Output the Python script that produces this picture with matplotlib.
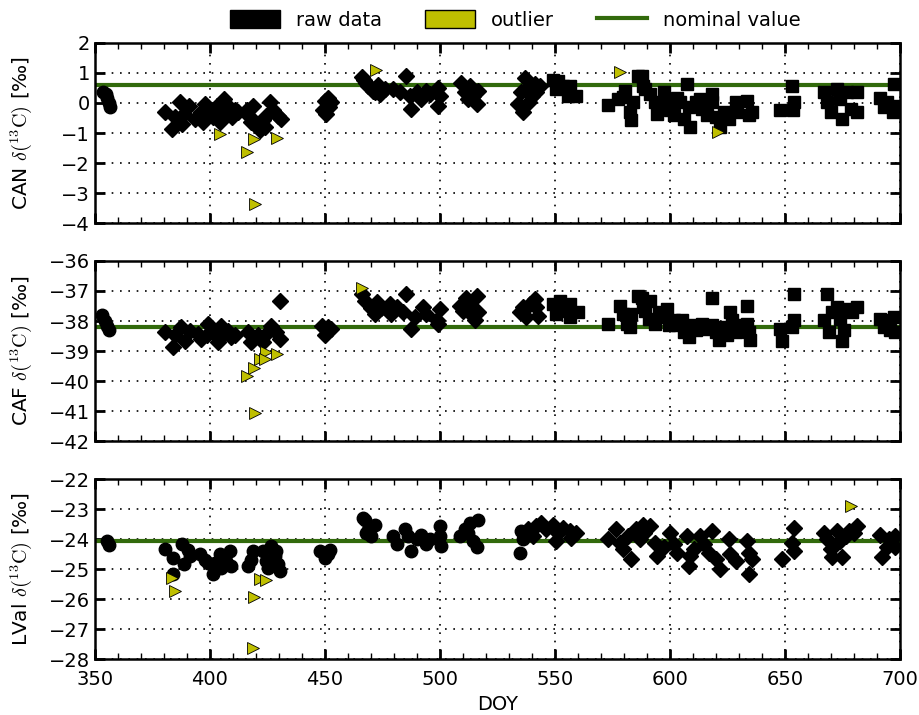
import matplotlib
matplotlib.use("Agg")
import matplotlib.pyplot as plt
from matplotlib.patches import Patch
from matplotlib.lines import Line2D
from matplotlib.ticker import MultipleLocator

plt.rcParams['font.family'] = ['DejaVu Sans']
plt.rcParams['mathtext.fontset'] = 'cm'

# ---------------- CAN ----------------
can_circ_doy = [353.5, 355, 355.5, 356, 356.5]
can_circ_val = [0.35, 0.3, 0.15, 0.0, -0.15]
can_diam_doy = [380.4, 383.6, 384.8, 387, 388, 389, 391, 393.5, 396, 398, 397, 399, 401.5, 403,
                404.5, 406, 406.5, 408, 409.5, 411, 412.3, 416, 417.4, 419, 420, 421.7, 423, 424.6,
                426, 427.5, 429.7, 431, 424, 418,
                450, 451.4, 449.3, 452, 450.7, 452.9,
                466, 467, 468, 469, 470, 471, 472, 473, 474, 476,
                485.5, 479.7, 482.6, 487, 487.7, 489.9, 492, 494.2, 495.7, 499.3, 500, 499.3,
                509.4, 510.9, 513, 514.5, 516, 516.7, 512.3,
                537, 538.4, 535.5, 534, 536.2, 540, 541.3, 539, 543.5, 542]
can_diam_val = [-0.29, -0.87, -0.47, 0.02, -0.69, -0.36, -0.09, -0.53, -0.31, -0.04, -0.63, -0.25,
                -0.47, -0.09, -0.63, 0.13, -0.31, -0.09, -0.47, -0.25, -0.31, -0.25, -0.47, -0.09,
                -0.69, -0.91, -0.58, -0.42, 0.02, -0.25, -0.42, -0.53, -0.8, -0.63,
                0.07, 0.18, -0.25, -0.14, -0.36, 0.02,
                0.85, 0.75, 0.65, 0.55, 0.5, 0.4, 0.35, 0.6, 0.3, 0.45,
                0.89, 0.46, 0.35, 0.24, -0.2, 0.35, 0.13, 0.4, 0.29, 0.51, 0.24, -0.09,
                0.67, 0.35, 0.57, 0.24, -0.03, 0.4, 0.13,
                0.84, 0.51, 0.35, -0.03, -0.3, 0.24, 0.62, 0.02, 0.57, 0.35]
can_sq_doy = [549.3, 551.4, 550.7, 553.6, 556.5, 555.8, 559.4, 573.2, 579.7, 586.2, 580.4, 577.5,
              584, 582.6, 583.3, 588.4,
              588, 589.4, 591.6, 593.8, 594.5, 597.4, 598.8, 600.3, 601.7, 603.2, 604.6, 606.1,
              607.5, 608.3, 609, 611.2, 613.3, 614, 616.2, 618.4, 618.4, 619.9, 622, 623.5, 625.7,
              628.6, 629.3, 633.6, 634.3, 635.8, 648.1, 653.2, 654, 653.6, 667, 668.4, 669.9,
              672.8, 674.2, 675, 677.1, 678.6, 681.4, 681.4, 691.6, 693, 694.5, 697.4, 698.1, 697]
can_sq_val = [0.78, 0.73, 0.46, 0.57, 0.57, 0.24, 0.24, -0.07, 0.2, 0.89, 0.4, 0.13,
              0.02, -0.3, -0.58, 0.57,
              0.89, 0.46, 0.29, 0.02, -0.36, 0.35, 0.02, -0.25, -0.41, 0.18, 0.02, -0.52,
              0.62, -0.14, -0.79, 0.02, 0.13, -0.2, -0.41, 0.29, 0.02, -0.47, -0.79, -0.3, -0.52,
              0.02, -0.3, 0.08, -0.41, -0.3, -0.25, 0.57, 0.02, -0.25, 0.35, 0.02, -0.3,
              0.46, 0.13, -0.52, 0.35, -0.2, 0.35, -0.3, 0.18, -0.14, 0.02, 0.62, -0.09, -0.3]
can_out_doy = [404.3, 419.3, 416.4, 429.4, 419.6, 472.2, 578.3, 621]
can_out_val = [-1.02, -1.2, -1.64, -1.15, -3.36, 1.09, 1.03, -0.96]
can_nominal = 0.6

# ---------------- CAF ----------------
caf_circ_doy = [353, 354.5, 355.5, 356]
caf_circ_val = [-37.8, -38.0, -38.15, -38.3]
caf_diam_doy = [380.4, 384, 384.8, 387.7, 389.1, 391.3, 394.9, 396.4, 399.3, 398.6, 401.4, 403.6,
                405.1, 405.8, 408, 409.4, 410.9, 416.7, 418.1, 421, 423.2, 424.6, 426.8, 429,
                430.4, 430.7,
                448.6, 451.4, 450, 452.9,
                466, 467.4, 470.3, 472.5, 471.7, 474.6, 478.3, 479,
                485.5, 481.2, 484, 487.7, 489.1, 492.8, 494.2, 498.6, 500, 499.3,
                508.7, 511.6, 513, 513.8, 516, 516.7, 515.2, 510.1,
                534.8, 536.2, 537.7, 539.1, 541.3, 542, 542.8]
caf_diam_val = [-38.37, -38.87, -38.48, -38.21, -38.65, -38.32, -38.43, -38.59, -38.1, -38.48,
                -38.37, -38.7, -38.15, -38.48, -38.32, -38.54, -38.48, -38.37, -38.7, -38.48,
                -38.7, -38.43, -38.15, -38.37, -38.59, -37.33,
                -38.15, -38.21, -38.48, -38.26,
                -37.1, -37.33, -37.55, -37.38, -37.77, -37.55, -37.44, -37.77,
                -37.11, -37.54, -37.71, -38.25, -37.87, -37.54, -37.76, -37.98, -37.6, -38.09,
                -37.49, -37.22, -37.43, -37.76, -37.16, -37.71, -37.98, -37.65,
                -37.71, -37.54, -37.87, -37.43, -37.27, -37.54, -37.82]
caf_sq_doy = [549.3, 550.7, 552.2, 553.6, 556.5, 556.5, 560.1, 573.2, 578.3, 579.7, 581.2, 583.3,
              586.2, 588.4, 582.6,
              588, 591.6, 589.4, 590.9, 593.8, 595.2, 597.4, 598.8, 599.6, 601.7, 603.2, 605.4,
              606.1, 608.3, 609.7, 611.2, 614.1, 615.5, 618.4, 618.4, 619.9, 621.3, 623.5, 625,
              626.4, 627.1, 628.6, 629.3, 633.6, 633.6, 634.3, 635.1, 648.1, 648.8, 653.9, 653.9,
              653.2, 667, 668.4, 669.1, 670.6, 672.8, 674.2, 675, 675.7, 677.1, 679.3, 681.4,
              691.6, 693, 695.2, 695.9, 697.4, 698.1]
caf_sq_val = [-37.43, -37.76, -37.33, -37.65, -37.43, -37.87, -37.71, -38.09, -37.49, -37.76,
              -38.09, -37.76, -37.16, -37.54, -38.2,
              -37.22, -37.33, -37.65, -37.92, -38.09, -37.71, -37.87, -37.6, -38.14, -37.98,
              -38.14, -37.98, -38.36, -38.52, -38.14, -38.3, -38.09, -38.25, -37.22, -38.14,
              -38.36, -38.63, -38.2, -38.47, -37.71, -37.98, -38.36, -38.14, -37.49, -38.09,
              -38.36, -38.63, -38.25, -38.68, -37.11, -37.98, -38.2, -37.98, -37.11, -38.36,
              -37.71, -37.54, -37.92, -38.68, -38.3, -37.6, -37.71, -37.54,
              -37.92, -38.2, -37.98, -38.3, -37.87, -38.36]
caf_out_doy = [466, 424.6, 429.4, 421.7, 423.9, 419.3, 416.4, 419.6]
caf_out_val = [-36.89, -39.03, -39.09, -39.25, -39.25, -39.58, -39.84, -41.07]
caf_nominal = -38.2

# ---------------- LVal ----------------
lval_circ_doy = [355.5, 356,
                 380.7, 384.1, 384.1, 388, 390.6, 391.3, 388.8, 395.7, 397.8, 399.3, 401.4, 402.2,
                 404.3, 405.1, 407.2, 408.7, 409.4, 416.7, 418.1, 418.8, 423.2, 424.6, 426.8,
                 428.3, 429.7, 430.4, 429, 425.4,
                 447.8, 450, 452.2, 451.4,
                 467.4, 468.8, 471.7, 468.1, 466.5, 470,
                 479.7, 481.2, 484.8, 486.2, 487.7, 489.9, 492, 494.2, 495.7, 500, 500, 500.7,
                 508.7, 510.9, 513, 516.7, 514.5, 516, 512.3,
                 534.8, 535.5, 536.2]
lval_circ_val = [-24.05, -24.2,
                 -24.33, -24.62, -25.17, -24.18, -24.35, -24.57, -24.84, -24.51, -24.68, -24.79,
                 -25.17, -24.79, -24.51, -24.95, -24.73, -24.4, -24.9, -24.9, -24.68, -24.4,
                 -24.4, -24.73, -24.24, -24.57, -24.84, -25.06, -24.4, -24.95,
                 -24.4, -24.62, -24.35, -24.51,
                 -23.36, -23.69, -23.53, -23.8, -23.3, -23.9,
                 -23.9, -24.17, -23.68, -23.9, -24.39, -24.01, -23.85, -24.17, -24.01, -23.58,
                 -23.9, -24.23,
                 -23.9, -23.68, -23.47, -23.36, -24.07, -24.28, -23.79,
                 -24.45, -23.74, -24.01]
lval_diam_doy = [538.4, 540.6, 544.2, 542, 546.4, 549.3, 550.7, 551.4, 553.6, 556.5, 557.2, 559.4,
                 573.2, 576.8, 578.3, 579.7, 581.9, 583.3, 585.5, 587, 588.4,
                 588.7, 591.6, 593.8, 594.5, 597.4, 600.3, 601.7, 603.2, 607.5, 609, 608.3, 610.4,
                 613.3, 614.8, 618.4, 616.9, 619.9, 622, 625.7, 626.4, 628.6, 633.6, 634.3, 635.8,
                 634.3, 648.8, 653.9, 653.2, 653.9, 667, 668.4, 669.9, 670.6, 672.8, 674.2, 675,
                 676.5, 677.9, 680.1, 681.4, 691.6, 692.3, 694.5, 695.2, 698.1, 698.1]
lval_diam_val = [-23.68, -23.9, -23.47, -23.58, -23.68, -23.52, -24.07, -23.79, -23.63, -23.74,
                 -23.96, -23.79,
                 -24.01, -23.68, -24.12, -24.34, -23.9, -24.66, -23.68, -24.01, -23.52,
                 -23.79, -23.58, -24.12, -24.55, -24.28, -23.79, -24.17, -24.45, -23.9, -24.55,
                 -24.88, -24.34, -23.9, -24.17, -23.74, -24.45, -24.66, -24.99, -24.01, -24.5,
                 -24.72, -24.07, -24.45, -24.66, -25.15, -24.66, -23.63, -24.12, -24.39, -23.79,
                 -24.01, -24.34, -24.61, -23.74, -24.07, -24.61, -23.9, -23.74, -23.79, -23.58,
                 -23.85, -24.61, -24.28, -24.01, -23.9, -24.28]
lval_out_doy = [383.6, 384.8, 422, 424.6, 419.3, 418.8, 678.6]
lval_out_val = [-25.31, -25.72, -25.33, -25.35, -25.94, -27.63, -22.89]
lval_nominal = -24.05

ylabels = ['CAN', 'CAF', 'LVal']
ylims = [(-4, 2), (-42, -36), (-28, -22)]
xlim = (350, 700)

GREEN = '#326a0c'
OLIVE = (0.75, 0.75, 0.0)

fig, axes = plt.subplots(3, 1, figsize=(9.2, 7.15), dpi=100, sharex=True)
fig.subplots_adjust(left=0.103, right=0.978, top=0.940, bottom=0.078, hspace=0.21)

panels = [
    dict(groups=[(can_circ_doy, can_circ_val, 'o'), (can_diam_doy, can_diam_val, 'D'),
                 (can_sq_doy, can_sq_val, 's')],
         out=(can_out_doy, can_out_val), nom=can_nominal),
    dict(groups=[(caf_circ_doy, caf_circ_val, 'o'), (caf_diam_doy, caf_diam_val, 'D'),
                 (caf_sq_doy, caf_sq_val, 's')],
         out=(caf_out_doy, caf_out_val), nom=caf_nominal),
    dict(groups=[(lval_circ_doy, lval_circ_val, 'o'), (lval_diam_doy, lval_diam_val, 'D')],
         out=(lval_out_doy, lval_out_val), nom=lval_nominal),
]
msize = {'o': 9, 'D': 8, 's': 8.5}

for ax, p, lab, yl in zip(axes, panels, ylabels, ylims):
    ax.axhline(p['nom'], color=GREEN, lw=3, zorder=2)
    for dx, dy, m in p['groups']:
        ax.plot(dx, dy, linestyle='none', marker=m, ms=msize[m], color='k', mec='k', zorder=3)
    ax.plot(p['out'][0], p['out'][1], linestyle='none', marker='>', ms=8,
            color=OLIVE, mec='k', mew=0.6, zorder=4)
    ax.set_xlim(*xlim)
    ax.set_ylim(*yl)
    ax.yaxis.set_major_locator(MultipleLocator(1))
    ax.xaxis.set_major_locator(MultipleLocator(50))
    ax.xaxis.set_minor_locator(MultipleLocator(10))
    ax.grid(True, which='major', color='k', linestyle=(0, (1, 4)), linewidth=1.2)
    ax.set_axisbelow(True)
    ax.tick_params(which='major', direction='in', length=7, width=2, top=True, right=True,
                   labelsize=14)
    ax.tick_params(axis='x', which='major', pad=8)
    ax.tick_params(which='minor', direction='in', length=4, width=1, top=True, right=True)
    for s in ax.spines.values():
        s.set_linewidth(1.8)
    ax.set_ylabel(lab + r' $\delta(^{13}\mathrm{C})$ [‰]', fontsize=14.5)

for ax in axes:
    ax.yaxis.set_label_coords(-0.075, 0.5)
axes[-1].set_xlabel('DOY', fontsize=14)

handles = [Patch(facecolor='k', edgecolor='k'),
           Patch(facecolor=OLIVE, edgecolor='k'),
           Line2D([], [], color=GREEN, lw=3)]
fig.legend(handles, ['raw data', 'outlier', 'nominal value'], loc='center',
           bbox_to_anchor=(0.56, 0.972), ncol=3, frameon=False, fontsize=14,
           handlelength=2.6, handleheight=1.0, columnspacing=2.2)

fig.savefig('out.png', dpi=100)
